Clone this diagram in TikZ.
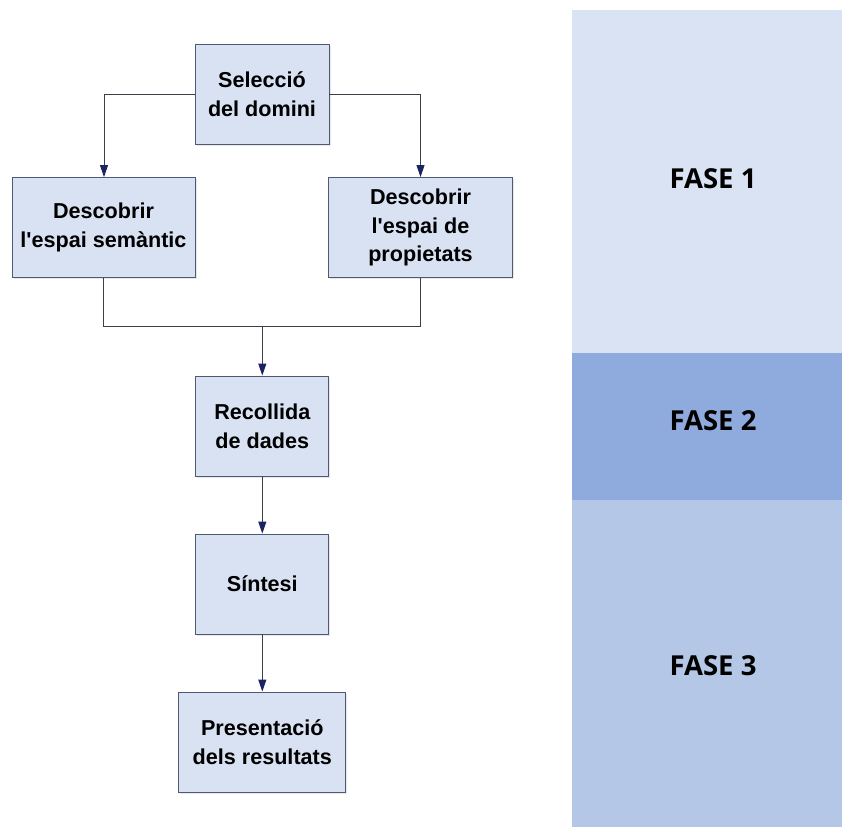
\documentclass[tikz,border=0pt]{standalone}
\usepackage{fontspec}
\newfontfamily\boxfont{Liberation Sans}
\newfontfamily\phasefont{Open Sans}
\usetikzlibrary{arrows.meta,shadows}
\definecolor{boxfill}{HTML}{D9E2F3}
\definecolor{boxline}{HTML}{4E5A74}
\definecolor{connline}{HTML}{3A3F4A}
\definecolor{tipcol}{HTML}{1B2460}
\definecolor{phaseA}{HTML}{DAE3F3}
\definecolor{phaseB}{HTML}{8FAADC}
\definecolor{phaseC}{HTML}{B4C7E7}
\tikzset{
  stepbox/.style={rectangle, draw=boxline, line width=0.9pt, fill=boxfill,
    minimum height=100pt, inner sep=0pt, align=center,
    font=\boxfont\bfseries\fontsize{21.6}{28.8}\selectfont,
    drop shadow={opacity=0.18, shadow xshift=1.5pt, shadow yshift=-1.5pt}},
  conn/.style={draw=connline, line width=0.9pt},
  arr/.style={conn, -{Triangle[length=12pt,width=8pt,fill=tipcol,color=tipcol]}},
  phaselabel/.style={font=\phasefont\bfseries\fontsize{27.5}{32}\selectfont, inner sep=0pt}
}
\begin{document}
\begin{tikzpicture}[x=1pt,y=-1pt]
\useasboundingbox (0,0) rectangle (842,827);
% phase panel
\fill[phaseA] (572,10) rectangle (842,353);
\fill[phaseB] (572,353) rectangle (842,500);
\fill[phaseC] (572,500) rectangle (842,827);
\node[phaselabel] (f1) at (713,179) {FASE 1};
\node[phaselabel] (f2) at (713,421) {FASE 2};
\node[phaselabel] (f3) at (713,666) {FASE 3};
% boxes
\node[stepbox, minimum width=134pt] (sel) at (262,94) {Selecció\\del domini};
\node[stepbox, minimum width=183pt] (sem) at (103.5,227.5) {Descobrir\\l'espai semàntic};
\node[stepbox, minimum width=184pt] (prop) at (420.5,227.5) {Descobrir\\l'espai de\\propietats};
\node[stepbox, minimum width=133pt] (rec) at (262.3,426) {Recollida\\de dades};
\node[stepbox, minimum width=133pt] (sin) at (262.3,584) {Síntesi};
\node[stepbox, minimum width=167pt] (pres) at (262.3,742) {Presentació\\dels resultats};
% connectors
\coordinate (m) at (262.3,326.7);
\draw[arr] (sel.west) -| ([xshift=0.5pt]sem.north);
\draw[arr] (sel.east) -| (prop.north);
\draw[conn] (sem.south) |- (m) -| (prop.south);
\draw[arr] (m) -- (rec.north);
\draw[arr] (rec.south) -- (sin.north);
\draw[arr] (sin.south) -- (pres.north);
\end{tikzpicture}
\end{document}
